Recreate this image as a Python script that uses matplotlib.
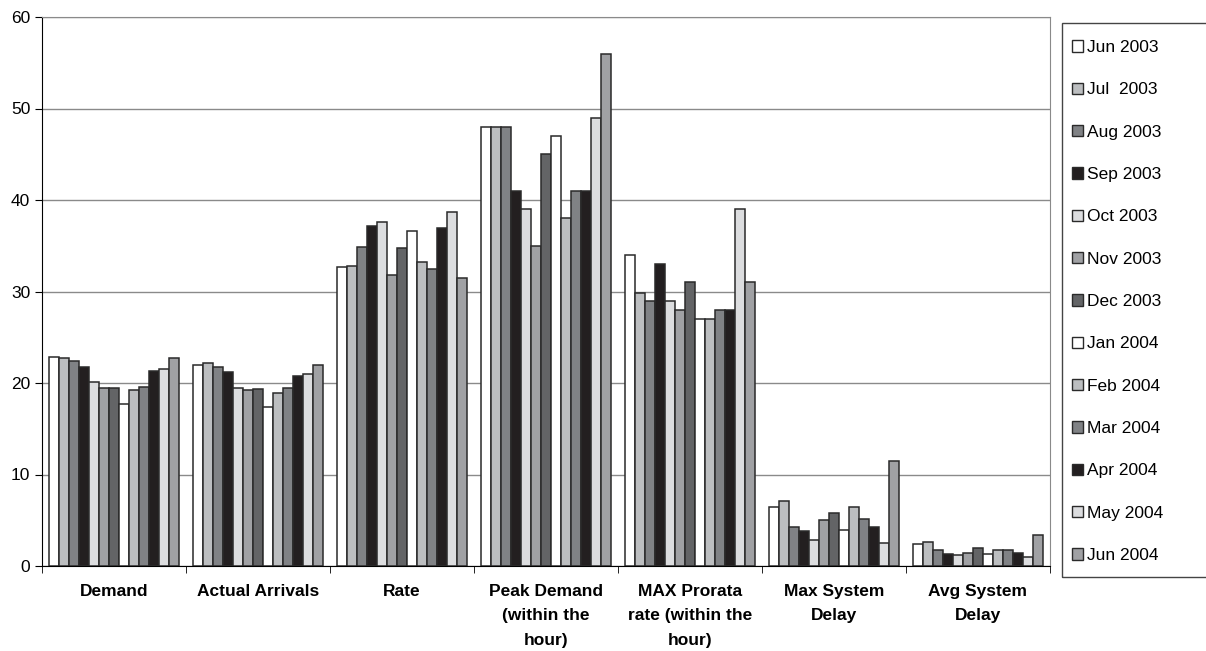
import numpy as np
import matplotlib.pyplot as plt
from matplotlib.patches import Patch, Rectangle

plt.rcParams['font.family'] = ['Liberation Sans', 'DejaVu Sans']

categories = ['Demand', 'Actual Arrivals', 'Rate', 'Peak Demand\n(within the\nhour)',
              'MAX Prorata\nrate (within the\nhour)', 'Max System\nDelay', 'Avg System\nDelay']

months = ['Jun 2003', 'Jul  2003', 'Aug 2003', 'Sep 2003', 'Oct 2003', 'Nov 2003', 'Dec 2003',
          'Jan 2004', 'Feb 2004', 'Mar 2004', 'Apr 2004', 'May 2004', 'Jun 2004']

# one row per category, one column per month
demand = [22.8, 22.7, 22.4, 21.8, 20.1, 19.4, 19.4, 17.7, 19.2, 19.6, 21.3, 21.5, 22.7]
arrivals = [22.0, 22.15, 21.75, 21.2, 19.5, 19.2, 19.3, 17.4, 18.9, 19.45, 20.8, 21.0, 22.0]
rate = [32.65, 32.8, 34.85, 37.15, 37.55, 31.85, 34.8, 36.6, 33.2, 32.5, 36.9, 38.7, 31.5]
peak_demand = [48, 48, 48, 41, 39, 35, 45, 47, 38, 41, 41, 49, 56]
max_prorata = [34, 29.8, 29, 33, 29, 28, 31, 27, 27, 28, 28, 39, 31]
max_delay = [6.5, 7.1, 4.3, 3.85, 2.85, 5.0, 5.8, 3.9, 6.4, 5.1, 4.25, 2.5, 11.5]
avg_delay = [2.4, 2.65, 1.7, 1.3, 1.15, 1.45, 1.95, 1.3, 1.75, 1.75, 1.45, 1.0, 3.4]

values = np.array([demand, arrivals, rate, peak_demand, max_prorata, max_delay, avg_delay])

shades = ['#ffffff', '#bcbec0', '#808285', '#231f20', '#dcdddf', '#a0a1a4', '#636466']
colors = [shades[i % 7] for i in range(len(months))]

W, H = 1206, 651
fig = plt.figure(figsize=(W / 100, H / 100), dpi=100)
ax = fig.add_axes([42 / W, 85 / H, (1050 - 42) / W, (566 - 17) / H])

n = len(months)
group_w = 0.9
bw = group_w / n
x = np.arange(len(categories))

for j in range(n):
    ax.bar(x - group_w / 2 + bw * (j + 0.5), values[:, j], width=bw,
           color=colors[j], edgecolor='#2a2a2a', linewidth=1.1, zorder=3)

ax.set_ylim(0, 60)
ax.set_xlim(-0.5, len(categories) - 0.5)
ax.set_yticks(np.arange(0, 61, 10))
ax.yaxis.grid(True, color='#8a8a8a', linewidth=1.0, zorder=0)

ax.set_xticks(x)
ax.set_xticklabels(categories, fontweight='bold', fontsize=12.5, linespacing=1.78)
ax.tick_params(axis='x', which='major', length=0, pad=13)
ax.set_xticks(np.arange(-0.5, len(categories)), minor=True)
ax.tick_params(axis='x', which='minor', length=5, direction='out', color='black')
ax.tick_params(axis='y', labelsize=12.5, length=5, direction='out')

ax.spines['left'].set_color('black')
ax.spines['bottom'].set_color('black')
ax.spines['top'].set_color('#8a8a8a')
ax.spines['right'].set_color('#8a8a8a')

# legend frame runs off the right edge of the figure
fig.patches.append(Rectangle((1062 / W, 1 - 577 / H), 160 / W, (577 - 23) / H,
                             transform=fig.transFigure, fill=False,
                             edgecolor='#444444', linewidth=1.0))

handles = [Patch(facecolor=c, edgecolor='#2a2a2a', linewidth=1.0) for c in colors]
fig.legend(handles, months, loc='upper left',
           bbox_to_anchor=(1072 / W, 1 - 40 / H),
           fontsize=12.5, frameon=False,
           handlelength=0.62, handleheight=0.62, handletextpad=0.25,
           labelspacing=1.575, borderpad=0, borderaxespad=0)

fig.savefig('out.png', dpi=100)
